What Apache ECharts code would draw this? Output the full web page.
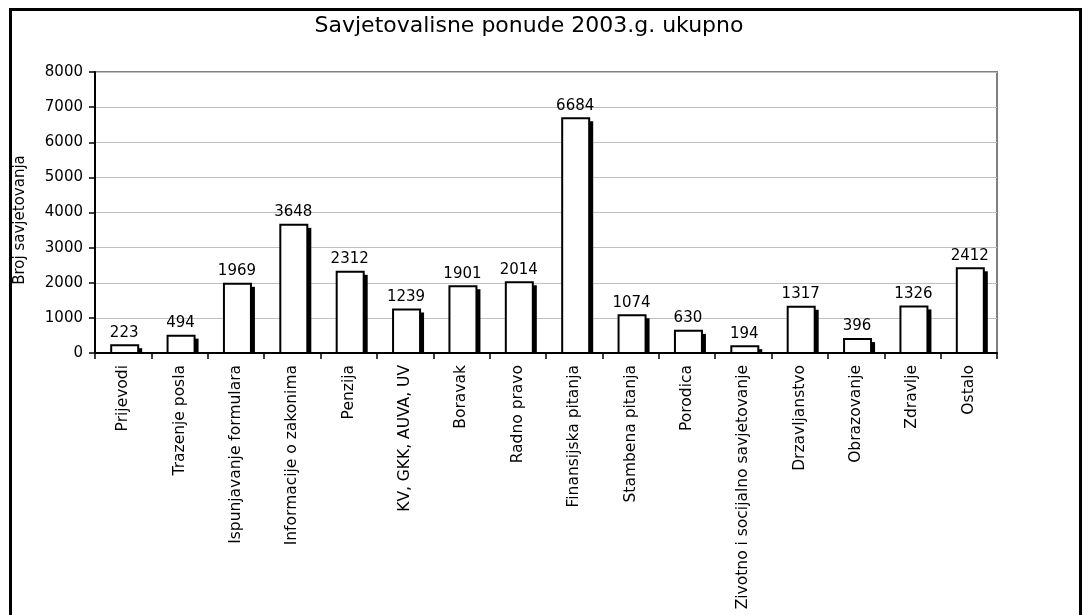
<!DOCTYPE html>
<html>
<head>
<meta charset="utf-8">
<script src="https://cdn.jsdelivr.net/npm/echarts@6/dist/echarts.min.js"></script>
<style>
html,body{margin:0;padding:0;background:#fff;}
#c{width:1083px;height:615px;}
</style>
</head>
<body>
<div id="c"></div>
<script>
var categories = ["Prijevodi","Trazenje posla","Ispunjavanje formulara","Informacije o zakonima","Penzija","KV, GKK, AUVA, UV","Boravak","Radno pravo","Finansijska pitanja","Stambena pitanja","Porodica","Zivotno i socijalno savjetovanje","Drzavljanstvo","Obrazovanje","Zdravlje","Ostalo"];
var values = [223,494,1969,3648,2312,1239,1901,2014,6684,1074,630,194,1317,396,1326,2412];
var yTicks = [0,1000,2000,3000,4000,5000,6000,7000,8000];

var FONT = '"DejaVu Sans", Verdana, sans-serif';
var chart = echarts.init(document.getElementById('c'));
chart.setOption({
  animation: false,
  backgroundColor: '#fff',
  title: {
    text: 'Savjetovalisne ponude 2003.g. ukupno',
    left: 524, top: 10, textAlign: 'center',
    textStyle: {fontFamily: FONT, fontSize: 22, fontWeight: 'normal', color: '#000'}
  },
  grid: {left: 95, right: 86, top: 72, bottom: 262, show: true, borderColor: '#808080', borderWidth: 2, backgroundColor: '#fff', outerBoundsMode: 'none', containLabel: false},
  xAxis: {
    type: 'category', data: categories,
    axisLine: {show: true, lineStyle: {color: '#000', width: 2}},
    axisTick: {show: true, interval: 0, length: 6, lineStyle: {color: '#000', width: 1.5}},
    axisLabel: {interval: 0, rotate: 90, margin: 12, fontFamily: FONT, fontSize: 15.5, color: '#000'},
    splitLine: {show: false}
  },
  yAxis: {
    type: 'value', min: yTicks[0], max: yTicks[yTicks.length-1], interval: 1000,
    axisLine: {show: true, lineStyle: {color: '#000', width: 2}},
    axisTick: {show: true, length: 6, lineStyle: {color: '#000', width: 1.5}},
    axisLabel: {margin: 12, fontFamily: FONT, fontSize: 15, color: '#000', formatter: function(v){ return String(v); }},
    splitLine: {show: true, lineStyle: {color: '#c0c0c0', width: 1}}
  },
  graphic: [
    {type: 'rect', silent: true, z: 100, shape: {x: 10.5, y: 9.5, width: 1070, height: 700}, style: {fill: 'none', stroke: '#000', lineWidth: 3}},
    {type: 'text', silent: true, x: 20, y: 220, rotation: Math.PI/2,
     style: {text: 'Broj savjetovanja', fontFamily: FONT, fontSize: 15, fill: '#000', align: 'center', verticalAlign: 'middle'}}
  ],
  series: [{
    type: 'custom',
    data: values.map(function(v, i){ return [i, v]; }),
    encode: {x: 0, y: 1},
    renderItem: function(params, api){
      var i = api.value(0), v = api.value(1);
      var top = api.coord([i, v]);
      var base = api.coord([i, 0]);
      var c = top[0];
      return {
        type: 'group',
        children: [
          {type: 'rect', shape: {x: c + 14, y: top[1] + 3, width: 5, height: base[1] - top[1] - 3}, style: {fill: '#000'}},
          {type: 'rect', shape: {x: c - 12, y: top[1], width: 27, height: base[1] - top[1]}, style: {fill: '#fff', stroke: '#000', lineWidth: 2}},
          {type: 'text', x: c + 1, y: top[1] - 5, style: {text: String(v), fontFamily: FONT, fontSize: 15, fill: '#000', align: 'center', verticalAlign: 'bottom'}}
        ]
      };
    }
  }]
});
</script>
</body>
</html>
